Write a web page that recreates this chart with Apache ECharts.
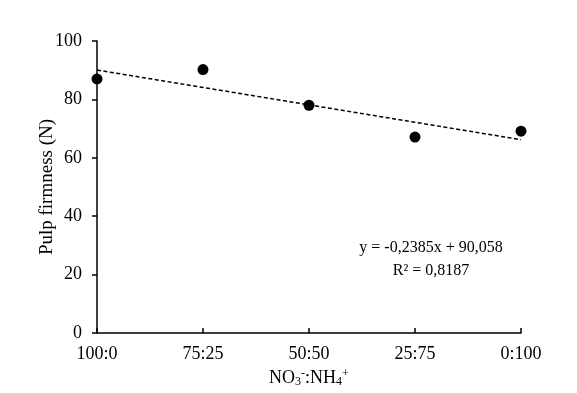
<!DOCTYPE html>
<html>
<head>
<meta charset="utf-8">
<script src="https://cdn.jsdelivr.net/npm/echarts@6/dist/echarts.min.js"></script>
<style>
  html, body { margin: 0; padding: 0; background: #fff; }
  #chart { width: 577px; height: 393px; }
</style>
</head>
<body>
<div id="chart"></div>
<script>
// NH4+ share (%) for each treatment, and its label
const ratioX = [0, 25, 50, 75, 100]
const ratioLabels = ['100:0', '75:25', '50:50', '25:75', '0:100']
const firmness = [87.0, 90.2, 78.0, 67.1, 69.1]
// linear trend y = -0,2385x + 90,058 at both ends
const trendX = [0, 100]
const trendY = [90.058, 66.208]
const eqLines = ['y = -0,2385x + 90,058', 'R² = 0,8187']

const font = '"Liberation Serif", "Times New Roman", serif'
const chart = echarts.init(document.getElementById('chart'))

chart.setOption({
  animation: false,
  textStyle: { fontFamily: font, color: '#000' },
  grid: { left: 97, right: 56, top: 41, bottom: 60 },
  xAxis: {
    type: 'value',
    min: 0, max: 100, interval: 25,
    splitLine: { show: false },
    axisLine: { lineStyle: { color: '#000', width: 1.5 } },
    axisTick: { inside: true, length: 5, lineStyle: { color: '#000', width: 1.5 } },
    axisLabel: {
      fontFamily: font, fontSize: 18, color: '#000', margin: 12,
      formatter: v => ratioLabels[ratioX.indexOf(v)]
    },
    name: '{n|NO}{s|3}{p|-}{n|:NH}{s|4}{p|+}',
    nameLocation: 'middle',
    nameGap: 35,
    nameTextStyle: {
      rich: {
        n: { fontFamily: font, fontSize: 18, color: '#000' },
        s: { fontFamily: font, fontSize: 12, color: '#000', padding: [8, 0, 0, 0] },
        p: { fontFamily: font, fontSize: 12, color: '#000', padding: [0, 0, 8, 0] }
      }
    }
  },
  yAxis: {
    type: 'value',
    min: 0, max: 100, interval: 20,
    splitLine: { show: false },
    axisLine: { show: true, lineStyle: { color: '#000', width: 1.5 } },
    axisTick: { show: true, length: 5, lineStyle: { color: '#000', width: 1.5 } },
    axisLabel: { fontFamily: font, fontSize: 18, color: '#000', margin: 15 },
    name: 'Pulp firmness (N)',
    nameLocation: 'middle',
    nameGap: 40,
    nameMoveOverlap: false,
    nameTextStyle: { fontFamily: font, fontSize: 19, color: '#000' }
  },
  series: [
    {
      type: 'line',
      data: trendX.map((x, i) => [x, trendY[i]]),
      symbol: 'none',
      lineStyle: { color: '#000', width: 1.5, type: [4, 2.5] },
      z: 2
    },
    {
      type: 'scatter',
      data: ratioX.map((x, i) => [x, firmness[i]]),
      symbol: 'circle',
      symbolSize: 11,
      itemStyle: { color: '#000', opacity: 1 },
      z: 3
    }
  ],
  graphic: eqLines.map((t, i) => ({
    type: 'text',
    x: 431, y: 248 + i * 23,
    style: {
      text: t, fontFamily: font, fontSize: 16, fill: '#000',
      align: 'center', verticalAlign: 'middle'
    }
  }))
})
</script>
</body>
</html>
